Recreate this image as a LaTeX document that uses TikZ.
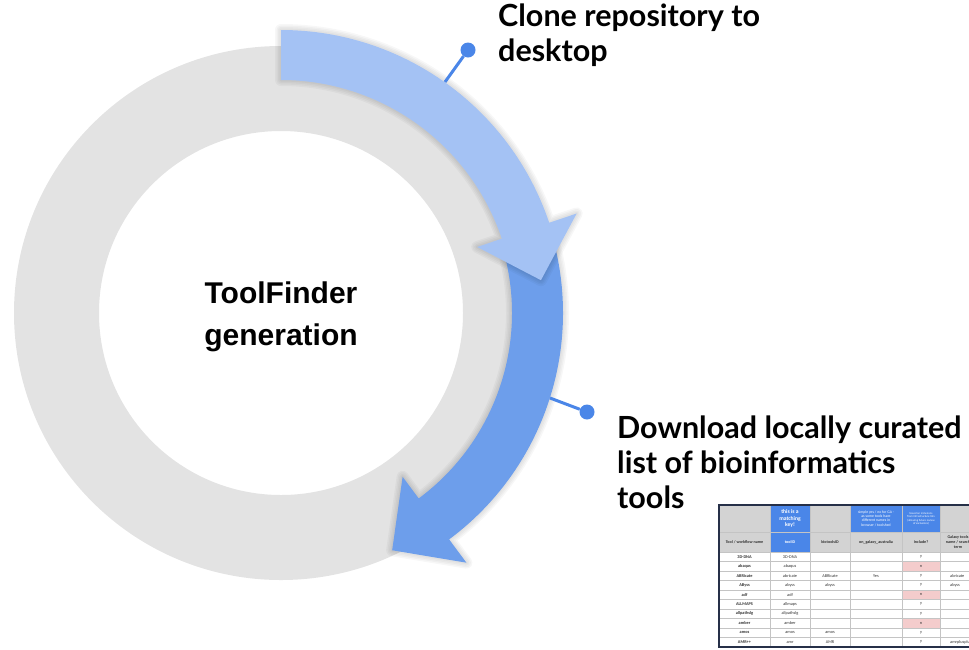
\documentclass[tikz,border=0pt]{standalone}
\usepackage{fontspec}
\setmainfont{Lato}
\newfontfamily\centrefont{Liberation Sans}
\newfontfamily\cellfont{Carlito}

\definecolor{ringgray}{HTML}{E3E3E3}
\definecolor{lightblue}{HTML}{A4C2F4}
\definecolor{midblue}{HTML}{6D9EEB}
\definecolor{dotblue}{HTML}{4A86E8}
\definecolor{sheetblue}{HTML}{4A86E8}
\definecolor{sheetgray}{HTML}{D3D3D3}
\definecolor{sheetpink}{HTML}{F4CCCC}
\definecolor{sheetline}{HTML}{C4C4C4}
\definecolor{sheetframe}{HTML}{263048}

% outlines of the two curved step arrows (centre of the ring at the origin)
\newcommand\secondsteppath{(15:282) arc[start angle=15, end angle=-53.4, radius=282]
    -- (-53.4:311) -- (-64.9:262) -- (-53.4:204) -- (-53.4:231)
    arc[start angle=-53.4, end angle=15, radius=231] -- cycle}
\newcommand\firststeppath{(90:283) arc[start angle=90, end angle=18.6, radius=283]
    -- (18.6:312) -- (7.2:262) -- (18.6:207) -- (18.6:233)
    arc[start angle=18.6, end angle=90, radius=233] -- cycle}

\tikzset{
  softshadow/.style={draw=black, draw opacity=0.03, line join=round},
  calloutdot/.style={circle, fill=dotblue, inner sep=0pt, minimum size=15pt},
  calloutline/.style={draw=dotblue, line width=3pt},
  steplabel/.style={font=\fontsize{30.5}{35}\selectfont\bfseries, align=left,
      inner sep=0pt, text=black},
  cell/.style={inner sep=0pt, align=center, text=black!80},
  celltext/.style={font=\cellfont\fontsize{4.3}{5}\selectfont},
  cellbold/.style={font=\cellfont\fontsize{4.3}{5}\selectfont\bfseries},
}

\begin{document}
\begin{tikzpicture}[x=1pt, y=-1pt]
\useasboundingbox (0,0) rectangle (969,649);

% ---- cycle ring and the two step arrows ----
\begin{scope}[shift={(281,313)}, yscale=-1]
  \fill[ringgray, even odd rule] (0,0) circle[radius=267] (0,0) circle[radius=182];
  % second step (darker arrow) with a soft shadow
  \foreach \w in {12,9,6,3}
    \draw[softshadow, line width=\w pt] \secondsteppath;
  \fill[midblue] \secondsteppath;
  % first step (light arrow) with a soft shadow
  \foreach \w in {12,9,6,3}
    \draw[softshadow, line width=\w pt] \firststeppath;
  \fill[lightblue] \firststeppath;
\end{scope}

\node[font=\centrefont\fontsize{30}{42}\selectfont\bfseries, align=center, inner sep=0pt]
  (centre) at (281,317) {ToolFinder\\generation};

% ---- callouts ----
\node[calloutdot] (dot1) at (468,50) {};
\coordinate (edge1) at (445,82);
\draw[calloutline] (edge1) -- (dot1);
\node[calloutdot] (dot2) at (587,412) {};
\coordinate (edge2) at (550,398);
\draw[calloutline] (edge2) -- (dot2);

\node[steplabel, anchor=north west] (clone) at (498,4) {Clone repository to\\desktop};
\node[steplabel, anchor=north west] (download) at (617,416)
  {Download locally curated\\list of bioinformatics\\tools};

% ---- spreadsheet excerpt ----
\begin{scope}
  \clip (716,502) rectangle (969,649);
  % header backgrounds
  \fill[sheetgray] (719,505) rectangle (1000,552);
  \fill[sheetblue] (770,505) rectangle (810,552);
  \fill[sheetblue] (850,505) rectangle (902,532);
  \fill[sheetblue] (902,505) rectangle (940,532);
  % excluded tools
  \foreach \r in {2,5,8}
    \fill[sheetpink] (902,{552+9.5*(\r-1)}) rectangle (940,{552+9.5*\r});
  % grid
  \foreach \x in {770,810,850,902,940}
    \draw[sheetline, line width=0.6pt] (\x,505) -- (\x,647);
  \draw[sheetline, line width=0.6pt] (719,532) -- (1000,532);
  \foreach \r in {0,...,9}
    \draw[sheetline, line width=0.6pt] (719,{552+9.5*\r}) -- (1000,{552+9.5*\r});
  % frame
  \draw[sheetframe, line width=1.6pt] (1000,505) -- (719,505) -- (719,647) -- (1000,647);

  % header texts
  \node[cell, text=white, font=\cellfont\fontsize{5.6}{6.4}\selectfont\bfseries]
    (hkey) at (790,518.5) {this is a\\matching\\key!};
  \node[cell, text=white, font=\cellfont\fontsize{3.8}{4.4}\selectfont]
    (hga) at (876,518.5) {simple yes / no for GA -\\as some tools have\\different names in\\browser / toolshed};
  \node[cell, text=white, font=\cellfont\fontsize{2.9}{3.4}\selectfont]
    (hinc) at (921,518.5) {based on inclusions\\from infrastructure lists\\(allowing future review\\of exclusions)};
  \foreach \cx/\txt [count=\k] in {744.5/{Tool / workflow name}, 790/toolID, 830/biotoolsID,
      876/on\_galaxy\_australia, 921/Include?, 958/{Galaxy tools\\name / search\\term}}
    \node[cell, font=\cellfont\fontsize{4.1}{4.7}\selectfont\bfseries,
      text={\ifnum\k=2 white\else black!80\fi}] (h\k) at (\cx,542) {\txt};

  % data rows
  \foreach \a/\b/\c/\d/\e/\f [count=\i] in {
      3D-DNA/3D-DNA/{}/{}/y/{},
      abaqus/abaqus/{}/{}/n/{},
      ABRicate/abricate/ABRicate/Yes/y/abricate,
      AByss/abyss/abyss/{}/y/abyss,
      adf/adf/{}/{}/n/{},
      ALLMAPS/allmaps/{}/{}/y/{},
      allpathslg/allpathslg/{}/{}/y/{},
      amber/amber/{}/{}/n/{},
      amos/amos/amos/{}/y/{},
      AMR++/amr/AMR/{}/y/amrplusplus}
  {
    \pgfmathsetmacro\yy{552+9.5*(\i-0.5)}
    \node[cell, cellbold] (r\i a) at (744.5,\yy) {\a};
    \node[cell, celltext] (r\i b) at (790,\yy) {\b};
    \node[cell, celltext] (r\i c) at (830,\yy) {\c};
    \node[cell, celltext] (r\i d) at (876,\yy) {\d};
    \node[cell, celltext] (r\i e) at (921,\yy) {\e};
    \node[cell, celltext, anchor=west] (r\i f) at (950,\yy) {\f};
  }
\end{scope}
\end{tikzpicture}
\end{document}
